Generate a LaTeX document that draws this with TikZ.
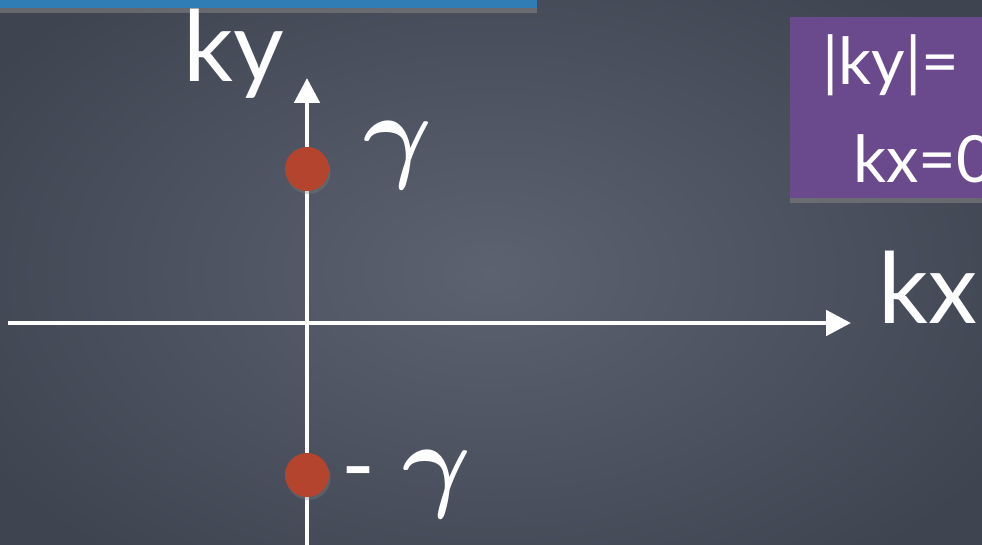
\documentclass[tikz,border=0pt]{standalone}
\usepackage{graphicx}
\usepackage{fontspec}
\setmainfont{Lato}
\usetikzlibrary{arrows.meta,positioning,shadows}
\definecolor{boardmid}{HTML}{5C6270}
\definecolor{boardedge}{HTML}{3F4451}
\definecolor{barblue}{HTML}{2F7DB4}
\definecolor{condpurple}{HTML}{6A4A8D}
\definecolor{dotred}{HTML}{B5442F}
\newcommand{\biggam}{\scalebox{6}{\normalsize\boldmath$\gamma$}}

\begin{document}
\begin{tikzpicture}[x=0.02cm, y=-0.02cm, >={Triangle[length=5mm,width=5mm]},
  axis/.style={draw=white, line width=2.8pt},
  dot/.style={circle, fill=dotred, minimum size=0.88cm, inner sep=0pt,
    drop shadow={opacity=0.35, shadow xshift=0.3mm, shadow yshift=-0.6mm}},
  axlbl/.style={text=white, inner sep=0pt, anchor=base west, font=\fontsize{56}{56}\selectfont},
  glbl/.style={text=white, inner sep=0pt, anchor=base west, font=\fontsize{52}{52}\selectfont},
  condtxt/.style={text=white, inner sep=0pt, anchor=base west, font=\fontsize{37}{37}\selectfont},
  panel/.style={drop shadow={opacity=0.6, shadow xshift=0mm, shadow yshift=-1mm}}]
\clip (0,0) rectangle (982,544);
% chalkboard
\shade[inner color=boardmid, outer color=boardedge] (-100,-100) rectangle (1082,644);

% top bar and condition panel
\fill[barblue, panel] (-20,-20) rectangle (537,8);
\fill[condpurple, panel] (790,17) rectangle (1010,198);
\node[condtxt] (kycond) at (822,85) {|ky|=};
\node[condtxt] (kxcond) at (853,182) {kx=0};

% axes
\coordinate (xstart) at (8,323);
\coordinate (xend) at (851,323);
\coordinate (ystart) at (307,560);
\coordinate (yend) at (307,78);
\draw[axis,->] (xstart) -- (xend);
\draw[axis,->] (ystart) -- (yend);
\node[axlbl] (kylbl) at (183,82) {ky};
\node[axlbl] (kxlbl) at (878,323) {kx};

% points on the ky axis
\node[dot] (gplus) at (307,169) {};
\node[dot] (gminus) at (307,475) {};
\node[glbl] (gpluslbl) at (363,168) {\biggam};
\node[glbl] (gminuslbl) at (341,497) {-\kern0.3em\biggam};
\end{tikzpicture}
\end{document}
